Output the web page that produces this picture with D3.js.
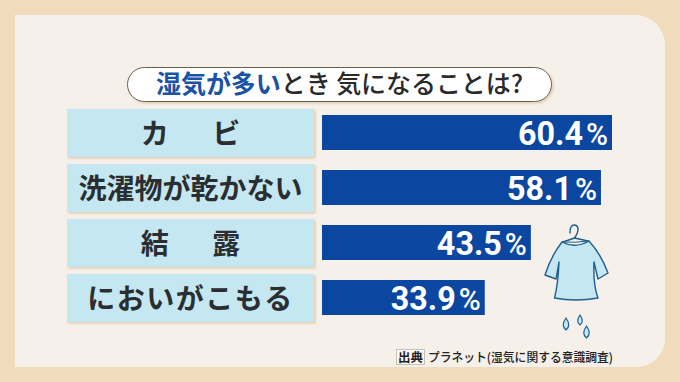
<!DOCTYPE html>
<html><head><meta charset="utf-8">
<script src="https://cdn.jsdelivr.net/npm/d3@7"></script>
<style>html,body{margin:0;padding:0;background:#f0dbbb}svg{display:block}</style>
</head><body><svg id="c" width="680" height="382"></svg>
<script>
const categories = ["カ ビ", "洗濯物が乾かない", "結 露", "においがこもる"];
const values = [60.4, 58.1, 43.5, 33.9];
const valueLabels = ["60.4", "58.1", "43.5", "33.9"];
const titleBlue = "湿気が多い";
const titleDark = "とき 気になることは?";
const sourceTag = "出典";
const sourceText = "プラネット(湿気に関する意識調査)";
const jp = "'Noto Sans CJK JP','Noto Sans',sans-serif";
const num = "'Roboto','Inter',sans-serif";
const svg = d3.select("#c");
const defs = svg.append("defs");
const f = defs.append("filter").attr("id","sh").attr("x","-5%").attr("y","-10%").attr("width","110%").attr("height","125%");
f.append("feDropShadow").attr("dx",1.5).attr("dy",1.5).attr("stdDeviation",1).attr("flood-color","#d9c4a0").attr("flood-opacity",.8);
// panel: square on the left, rounded on the right
svg.append("path").attr("fill","#f5f0e9")
  .attr("d","M15 15H635A30 30 0 0 1 665 45V339A28 28 0 0 1 637 367H15Z");
const x = d3.scaleLinear().domain([0,60.4]).range([322,612]);
const yBand = d3.scaleBand().domain(categories).range([109,329]);
// pill
svg.append("rect").attr("x",127.5).attr("y",67.5).attr("width",424).attr("height",34).attr("rx",17)
  .attr("fill","#fff").attr("stroke","#6b5f50").attr("stroke-width",1).attr("filter","url(#sh)");
const t = svg.append("text").attr("x",156).attr("y",93)
  .attr("font-family",jp).attr("font-size",25).attr("font-weight",500)
  .attr("textLength",367).attr("lengthAdjust","spacing");
t.append("tspan").attr("fill","#1a52a5").attr("font-weight",700).text(titleBlue);
t.append("tspan").attr("fill","#2a2a2a").text(titleDark);
// rows
const row = svg.selectAll("g.row").data(categories).join("g").attr("class","row")
  .attr("transform",d=>`translate(0,${yBand(d)})`);
row.append("rect").attr("x",67).attr("y",0).attr("width",247).attr("height",48).attr("fill","#c5e7f1").attr("filter","url(#sh)");
row.append("text").attr("x",190.5).attr("y",35).attr("text-anchor","middle")
  .attr("font-family",jp).attr("font-size",28).attr("font-weight",700).attr("fill","#2a2e30")
  .attr("word-spacing",37).attr("letter-spacing",(d,i)=>i===3?1.5:0)
  .text(d=>d);
row.append("rect").attr("x",x(0)).attr("y",6).attr("height",35)
  .attr("width",(d,i)=>x(values[i])-x(0)).attr("fill","#0b47a1");
row.append("text").attr("x",(d,i)=>x(values[i])-94).attr("y",36)
  .attr("font-family",num).attr("font-weight",700).attr("fill","#fff").attr("font-size",34)
  .attr("textLength",65).attr("lengthAdjust","spacingAndGlyphs").text((d,i)=>valueLabels[i]);
row.append("text").attr("x",(d,i)=>x(values[i])-26).attr("y",36)
  .attr("font-family",num).attr("font-weight",500).attr("fill","#fff").attr("font-size",31)
  .attr("textLength",22).attr("lengthAdjust","spacingAndGlyphs").text("%");
// icon: shirt on a hanger with drips
const icon = svg.append("g").attr("fill","none").attr("stroke","#1d5f90").attr("stroke-width",1.4).attr("stroke-linejoin","round").attr("stroke-linecap","round");
icon.append("path").attr("fill","#c5e7f1")
  .attr("d","M562 242Q551 256 545 275L556 279L559 262Q558 285 554.5 298Q576 302 598 298Q593 285 594 262L598 279L608 273Q601 254 589 241Q575 249 562 242Z");
icon.append("path").attr("d","M563 242L574.5 238L588 241M570 233Q570 225 574 225Q578 225 578 229.5Q578 233 574.5 238");
icon.append("path").attr("d","M562 242Q575 243 589 241").attr("stroke-width",1);
const drops = [[566,318,6],[580,315,5],[586.5,326,6]];
icon.selectAll("path.drop").data(drops).join("path").attr("class","drop").attr("fill","#c5e7f1").attr("stroke-width",1.2)
  .attr("d",d=>`M${d[0]} ${d[1]}Q${d[0]+d[2]*.9} ${d[1]+d[2]*1.3} ${d[0]} ${d[1]+d[2]*2}Q${d[0]-d[2]*.9} ${d[1]+d[2]*1.3} ${d[0]} ${d[1]}Z`);
// source
svg.append("rect").attr("x",396.5).attr("y",349.5).attr("width",28).attr("height",15).attr("fill","#fbfaf7").attr("stroke","#c5c0b8");
svg.append("text").attr("x",410.5).attr("y",361.5).attr("text-anchor","middle").attr("font-family",jp).attr("font-size",12.5).attr("font-weight",700).attr("fill","#222").text(sourceTag);
svg.append("text").attr("x",428).attr("y",361.5).attr("font-family",jp).attr("font-size",12.5).attr("font-weight",500).attr("fill","#222")
  .attr("textLength",185).attr("lengthAdjust","spacingAndGlyphs").text(sourceText);
</script></body></html>
